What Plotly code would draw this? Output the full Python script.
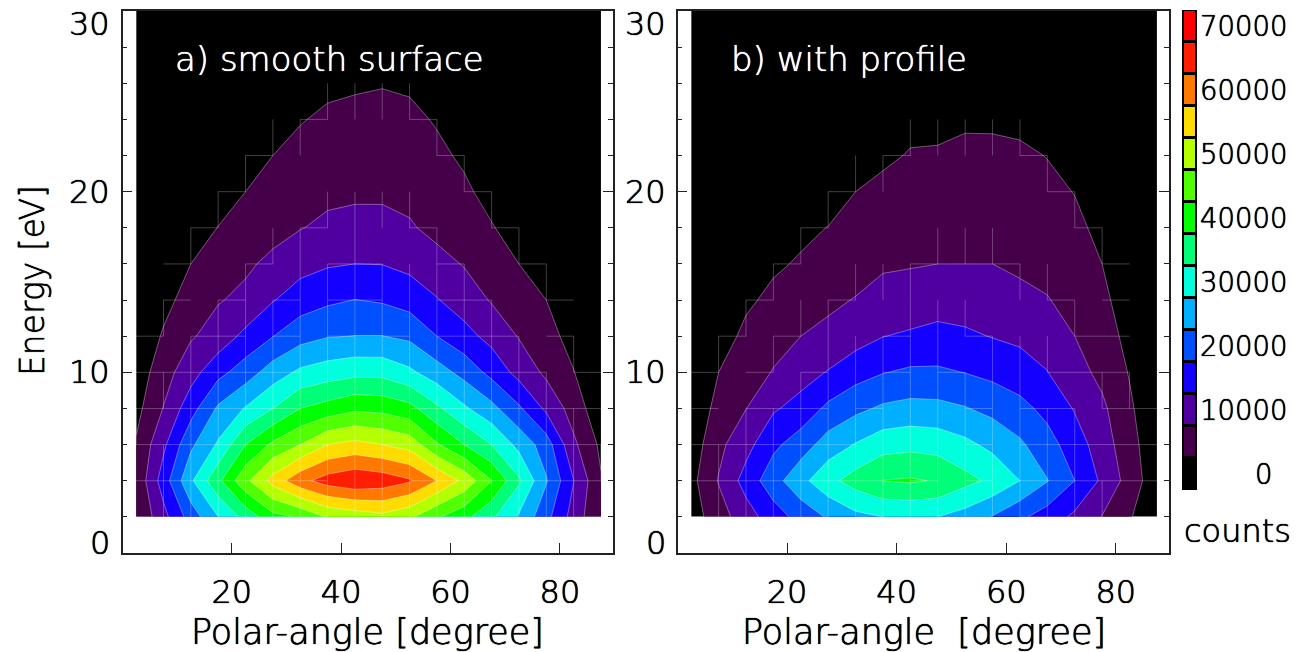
import plotly.graph_objects as go

angles = [2.5 + 5 * i for i in range(18)]
energies = [2 * i for i in range(1, 16)]

# one list per polar angle, values for E = 2, 4, 6, ... eV (the rest are zero)
smooth_surface = [
    [5200, 6000, 5500, 3500, 2000, 500],
    [13400, 17400, 14000, 10200, 8000, 5600, 3400, 1500],
    [22250, 29200, 24000, 18000, 13000, 9500, 7200, 5000, 3000, 800],
    [29950, 38850, 30700, 25800, 18500, 12000, 9700, 7300, 5100, 3000],
    [36800, 48750, 40000, 30400, 22500, 16300, 11000, 9300, 6800, 5000, 2500],
    [43400, 56900, 46000, 35000, 27400, 19900, 14700, 11000, 8600, 6700, 5000, 2800],
    [45700, 63400, 50000, 40000, 31000, 23100, 17500, 13300, 9800, 8000, 6500, 4700, 2800],
    [50500, 67200, 55000, 42000, 32500, 24700, 19100, 14500, 11000, 8900, 7700, 5900, 3900],
    [52000, 69000, 56500, 44000, 33600, 25100, 20100, 15000, 11300, 9300, 7900, 6500, 4300],
    [53500, 68000, 55000, 43500, 33500, 25100, 19500, 14900, 11100, 9400, 8000, 6700, 4700],
    [51000, 65600, 53000, 41700, 31000, 24000, 18000, 13700, 10500, 8700, 7400, 6300, 4200],
    [45600, 59900, 45500, 36000, 27300, 20000, 15300, 11600, 8700, 7000, 6200, 4500, 2000],
    [41500, 53650, 40000, 30800, 23300, 16700, 12600, 9700, 7500, 6000, 4100, 1200],
    [35900, 45100, 35000, 26500, 18500, 13400, 9600, 7200, 5400, 3100, 1500],
    [29400, 35800, 28500, 20800, 13300, 9700, 7500, 5000, 2400, 1000],
    [21600, 25400, 22500, 14000, 9000, 7000, 5000, 1800],
    [13000, 15100, 11000, 7800, 5200, 3000, 800],
    [5200, 5400, 4000, 1500, 300],
]
with_profile = [
    [2600, 3500, 2200, 500],
    [7800, 10300, 8800, 6900, 5000, 2800, 800],
    [12800, 16900, 13300, 9900, 7400, 6100, 4200, 2500, 800],
    [17600, 23000, 18900, 14400, 10300, 8000, 6100, 4300, 1500],
    [21800, 28500, 22500, 16800, 13000, 10000, 7700, 5500, 4000, 1500],
    [25600, 33500, 27300, 21100, 15300, 11000, 9200, 6800, 5100, 3000, 1000],
    [28700, 37150, 30300, 23800, 18000, 13000, 10200, 8300, 6600, 5000, 3000, 800],
    [30000, 40100, 33000, 25800, 19800, 14900, 11700, 9400, 7600, 6100, 4200, 1500],
    [30300, 40600, 33600, 26600, 20800, 15700, 12000, 9700, 7900, 6500, 5300, 3900, 1800],
    [30000, 39600, 33000, 26400, 20750, 16500, 12800, 10000, 8100, 6900, 5600, 3500, 1200],
    [28000, 36500, 31200, 25300, 19900, 15800, 12700, 10000, 8300, 7300, 6300, 4200, 1500],
    [24700, 34000, 28700, 23600, 18700, 14800, 12300, 10000, 8400, 7400, 6200, 4200, 1500],
    [21000, 30000, 25800, 21500, 17300, 14000, 11500, 9000, 7400, 6300, 5600, 4200, 1000],
    [17700, 25200, 21900, 18600, 15100, 13200, 10300, 8200, 6700, 5800, 4900, 1800],
    [14000, 20000, 17500, 14600, 11900, 10000, 8000, 6700, 5800, 4900, 1800],
    [9800, 14100, 12400, 11000, 8700, 6800, 5900, 5000, 4100, 2000, 500],
    [5400, 8000, 6900, 5800, 4700, 3900, 3000, 1000],
    [1500, 1700, 1400, 1000, 300],
]

band_colors = ["#000000", "#46004a", "#5000a0", "#1400ff", "#0050ff", "#00b0ff", "#00ffdc",
               "#00ff78", "#00ff00", "#50ff00", "#b4ff00", "#ffdc00", "#ff7800", "#ff1e00", "#ff0000"]
bar_labels = ["0", "10000", "20000", "30000", "40000", "50000", "60000", "70000"]
energy_ticks = [0, 10, 20, 30]
angle_ticks = [20, 40, 60, 80]
STEP = 5000
FONT = "DejaVu Sans Light, DejaVu Sans"
BLACK_EDGE = "0 0 0.7px black, 0 0 0.7px black"
WHITE_EDGE = "0 0 0.7px white, 0 0 0.7px white"
W, H = 1302, 652
TOP, BOTTOM = 11, 553


def z_rows(columns):
    full = [c + [0] * (len(energies) - len(c)) for c in columns]
    return [[full[i][j] for i in range(len(angles))] for j in range(len(energies))]


def seams(rows):
    """Grid edges that a contour line crosses."""
    xs, ys = [], []
    for j in range(len(energies)):
        for i in range(len(angles)):
            if i + 1 < len(angles) and rows[j][i] // STEP != rows[j][i + 1] // STEP:
                xs += [angles[i], angles[i + 1], None]
                ys += [energies[j], energies[j], None]
            if j + 1 < len(energies) and rows[j][i] // STEP != rows[j + 1][i] // STEP:
                xs += [angles[i], angles[i], None]
                ys += [energies[j], energies[j + 1], None]
    return xs, ys


scale = [[k / (len(band_colors) - 1), c] for k, c in enumerate(band_colors)]
fig = go.Figure()

for n, columns in enumerate([smooth_surface, with_profile]):
    rows = z_rows(columns)
    ax = "" if n == 0 else "2"
    fig.add_trace(go.Contour(
        x=angles, y=energies, z=rows, xaxis="x" + ax, yaxis="y" + ax,
        colorscale=scale, showscale=False, autocontour=False,
        contours=dict(start=STEP, end=14 * STEP, size=STEP, coloring="fill"),
        line=dict(color="rgba(255,255,255,0.35)", width=1, smoothing=0),
        hoverinfo="skip",
    ))
    sx, sy = seams(rows)
    fig.add_trace(go.Scatter(
        x=sx, y=sy, xaxis="x" + ax, yaxis="y" + ax, mode="lines",
        line=dict(color="rgba(255,255,255,0.25)", width=1), hoverinfo="skip", showlegend=False,
    ))

fig.add_trace(go.Heatmap(
    x=[0], y=list(range(len(band_colors))), z=[[k] for k in range(len(band_colors))],
    xaxis="x3", yaxis="y3", colorscale=scale, zmin=0, zmax=len(band_colors) - 1,
    showscale=False, ygap=3, hoverinfo="skip",
))

tick_font = dict(family=FONT, size=32, color="black", shadow=BLACK_EDGE)


def x_axis(x0, x1, anchor):
    return dict(
        domain=[x0 / W, x1 / W], range=[0, 89.7], anchor=anchor,
        tickmode="array", tickvals=angle_ticks, ticks="inside", ticklen=10, tickwidth=1,
        tickcolor="#222", tickfont=tick_font, ticklabelstandoff=10,
        showline=True, linecolor="#222", linewidth=1.5,
        mirror=True, showgrid=False, zeroline=False,
    )


def y_axis(anchor):
    return dict(
        domain=[1 - BOTTOM / H, 1 - TOP / H], range=[0, 30], anchor=anchor,
        tickmode="array", tickvals=energy_ticks, ticks="inside", ticklen=10, tickwidth=1,
        tickcolor="#222", showticklabels=False, showline=True, linecolor="#222", linewidth=1.5,
        mirror="ticks", showgrid=False, zeroline=False,
        minor=dict(dtick=2, tick0=0, ticks="inside", ticklen=5, tickwidth=1, tickcolor="#222", showgrid=False),
    )


def paper_text(px, py, text, size, color="black", anchor="center", angle=0):
    edge = WHITE_EDGE if color == "white" else BLACK_EDGE
    return dict(xref="paper", x=px / W, yref="paper", y=1 - py / H, text=text, showarrow=False,
                xanchor=anchor, yanchor="middle", textangle=angle,
                font=dict(family=FONT, size=size, color=color, shadow=edge))


annotations = []
for right in (112, 668):
    for v in energy_ticks:
        shift = 10 if v == 0 else (-13 if v == 30 else 0)
        annotations.append(dict(
            xref="paper", x=right / W, yref="y", y=v, text=str(v), showarrow=False,
            xanchor="right", yanchor="middle", yshift=shift, font=tick_font,
        ))
annotations += [
    paper_text(173, 59, "a) smooth surface", 34, "white", "left"),
    paper_text(729, 59, "b) with profile", 34, "white", "left"),
    paper_text(32, 281, "Energy [eV]", 33, angle=-90),
    paper_text(367.5, 632, "Polar-angle [degree]", 35),
    paper_text(923.5, 632, "Polar-angle  [degree]", 35),
    paper_text(1237, 531, "counts", 32),
]
for k, label in enumerate(bar_labels):
    annotations.append(dict(
        xref="paper", x=1289 / W, yref="y3", y=2 * k, text=label, showarrow=False,
        xanchor="right", yanchor="middle", xshift=-14 if label == "0" else 0,
        font=dict(family=FONT, size=27.5, color="black", shadow=BLACK_EDGE),
    ))

fig.update_layout(
    width=W, height=H, margin=dict(l=0, r=0, t=0, b=0),
    paper_bgcolor="white", plot_bgcolor="white", showlegend=False,
    xaxis=x_axis(122.5, 613, "y"),
    yaxis=y_axis("x"),
    xaxis2=x_axis(677.5, 1169, "y2"),
    yaxis2=y_axis("x2"),
    xaxis3=dict(domain=[1182 / W, 1197 / W], range=[-0.68, 0.68], anchor="y3", visible=False),
    yaxis3=dict(domain=[1 - 490 / H, 1 - 10 / H], range=[-0.5, 14.5], anchor="x3", visible=False),
    annotations=annotations,
    shapes=[dict(type="rect", xref="x3 domain", yref="y3 domain", x0=0, x1=1, y0=0, y1=1,
                 fillcolor="black", line=dict(width=0), layer="below")],
)

fig.write_html("out.html", config=dict(displayModeBar=False),
               post_script="document.body.style.margin='0';document.body.style.overflow='hidden';")
